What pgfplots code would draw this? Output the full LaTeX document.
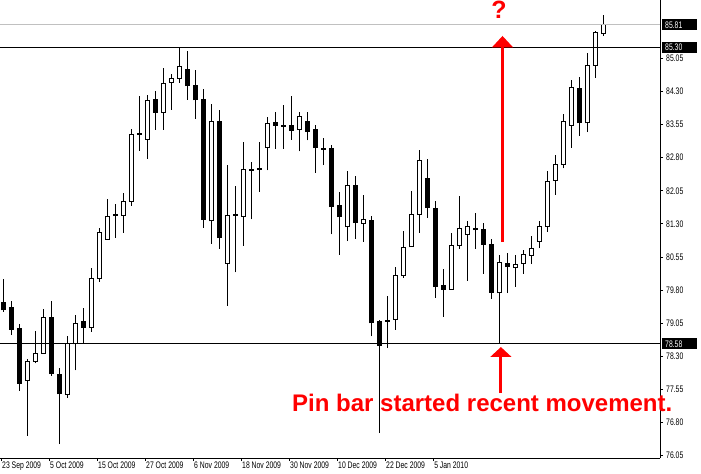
\documentclass[border=0pt]{standalone}
\usepackage{fontspec}
\setmainfont{Liberation Sans}
\newfontfamily\tickfont[FakeStretch=0.72]{Liberation Sans}
\usepackage{pgfplots}
\pgfplotsset{compat=1.18}
\usepackage{pgfplotstable}
\usetikzlibrary{calc}

\pgfplotstableread{
i o h l c
0 79.52 80.05 79.31 79.35
1 79.40 79.55 78.78 78.91
2 78.92 79.03 77.52 77.69
3 77.75 78.25 76.50 78.19
4 78.18 78.88 78.14 78.37
5 78.37 79.37 78.37 79.17
6 79.17 79.55 77.86 77.91
7 77.90 78.03 76.31 77.45
8 77.44 78.75 77.36 78.59
9 78.58 79.24 77.98 79.05
10 79.08 79.40 78.58 78.96
11 78.96 80.30 78.86 80.07
12 80.06 81.20 79.99 81.11
13 80.95 81.86 80.95 81.47
14 81.49 81.75 80.99 81.51
15 81.49 81.99 81.10 81.81
16 81.81 83.46 81.71 83.33
17 83.34 84.20 82.96 83.33
18 83.22 84.22 82.78 84.10
19 84.12 84.31 83.43 83.83
20 83.83 84.82 83.43 84.48
21 84.51 84.70 83.89 84.60
22 84.60 85.30 84.50 84.87
23 84.80 85.22 84.11 84.43
24 84.44 84.79 83.68 84.11
25 84.12 84.35 81.21 81.40
26 81.37 84.02 80.85 83.63
27 83.63 83.88 80.74 80.99
28 80.41 82.63 79.45 81.50
29 81.52 82.16 80.20 81.50
30 81.47 83.15 80.81 82.54
31 82.54 82.70 81.40 82.52
32 82.56 83.15 82.03 82.54
33 83.03 83.72 82.51 83.58
34 83.60 83.83 83.00 83.53
35 83.53 83.99 83.00 83.51
36 83.53 84.20 83.21 83.42
37 83.44 83.83 82.94 83.74
38 83.63 83.83 83.19 83.39
39 83.43 83.54 82.46 83.03
40 83.01 83.25 82.63 82.99
41 83.00 83.09 81.06 81.69
42 81.71 82.02 80.60 81.46
43 81.24 82.50 80.91 82.17
44 82.17 82.38 80.96 81.33
45 81.31 81.95 80.90 81.40
46 81.38 81.48 78.75 79.06
47 79.09 79.12 76.56 78.55
48 79.11 79.67 78.50 79.09
49 79.14 80.32 78.90 80.14
50 80.13 81.14 80.08 80.77
51 80.78 82.05 80.78 81.52
52 81.52 82.97 81.10 82.74
53 82.33 82.77 81.44 81.67
54 81.65 81.81 79.63 79.88
55 79.91 80.28 79.20 79.82
56 79.82 81.09 79.82 80.81
57 80.81 81.93 80.74 81.20
58 81.06 81.37 80.01 81.25
59 81.19 81.55 80.74 81.17
60 81.18 81.32 80.17 80.84
61 80.84 80.95 79.61 79.75
62 79.74 80.59 78.58 80.43
63 80.41 80.63 79.73 80.33
64 80.32 80.59 79.88 80.38
65 80.41 80.72 80.17 80.61
66 80.59 81.02 80.39 80.75
67 80.91 81.37 80.75 81.25
68 81.25 82.49 81.12 82.26
69 82.29 82.86 81.96 82.65
70 82.65 83.80 82.56 83.62
71 83.53 84.56 83.03 84.39
72 84.37 84.63 83.30 83.59
73 83.59 85.16 83.38 84.89
74 84.89 85.66 84.61 85.64
75 85.62 86.02 85.56 85.81
}\candles

\definecolor{bidgrey}{RGB}{192,192,192}
\definecolor{mtred}{RGB}{255,0,0}

\begin{document}
\begin{tikzpicture}
\useasboundingbox (0bp,-16bp) rectangle (701bp,458bp);
\begin{axis}[
  scale only axis, width=660bp, height=458bp,
  xmin=-0.4125, xmax=82.0875, ymin=75.998, ymax=86.371,
  axis x line*=bottom, axis y line*=right,
  axis line style={line width=1bp, black},
  tick align=outside, major tick length=3bp,
  tick style={black, line width=1bp},
  xtick={-0.22,5.78,11.78,17.78,23.78,29.78,35.78,41.78,47.78,53.78},
  xticklabels={23 Sep 2009,5 Oct 2009,15 Oct 2009,27 Oct 2009,6 Nov 2009,18 Nov 2009,30 Nov 2009,10 Dec 2009,22 Dec 2009,5 Jan 2010},
  xticklabel style={font=\tickfont\fontsize{9.5bp}{11bp}\selectfont, anchor=north west, inner sep=0.5bp, yshift=-0.5bp},
  ytick={76.05,76.80,77.55,78.30,79.05,79.80,80.55,81.30,82.05,82.80,83.55,84.30,85.05},
  yticklabel style={font=\tickfont\fontsize{9.5bp}{11bp}\selectfont, anchor=west, inner sep=1bp, xshift=2bp},
  /pgf/number format/.cd, fixed, fixed zerofill, precision=2, assume math mode=true,
]
% wicks
\addplot[black, line width=1bp, quiver={u=0, v={\thisrow{h}-\thisrow{l}}}] table[x=i, y=l] {\candles};
% bodies (outline / bearish fill)
\addplot[black, line width=5bp, quiver={u=0, v={abs(\thisrow{c}-\thisrow{o})+0.0226}}] table[x=i, y expr={min(\thisrow{o},\thisrow{c})-0.0113}] {\candles};
% bullish interior
\addplot[white, line width=3bp, quiver={u=0, v={(\thisrow{c}>\thisrow{o})*max(\thisrow{c}-\thisrow{o}-0.0226,0)}}] table[x=i, y expr={min(\thisrow{o},\thisrow{c})+0.0113}] {\candles};
% horizontal lines
\addplot[bidgrey, line width=1bp] coordinates {(-0.4125,85.81) (82.0875,85.81)};
\addplot[black, line width=1bp] coordinates {(-0.4125,85.30) (82.0875,85.30)};
\addplot[black, line width=1bp] coordinates {(-0.4125,78.58) (82.0875,78.58)};
\coordinate (b1) at (axis cs:82.0875,85.81);
\coordinate (b2) at (axis cs:82.0875,85.30);
\coordinate (b3) at (axis cs:82.0875,78.58);
\coordinate (ua0) at (axis cs:62.4,80.89);
\coordinate (ua1) at (axis cs:62.4,85.30);
\coordinate (ua2) at (axis cs:62.4,85.556);
\coordinate (la0) at (axis cs:62.2,77.47);
\coordinate (la1) at (axis cs:62.2,78.29);
\coordinate (la2) at (axis cs:62.2,78.51);
\coordinate (txt) at (axis cs:36.09,77.06);
\coordinate (qm) at (axis cs:61.96,85.957);
\end{axis}
\foreach \b/\t in {b1/85.81,b2/85.30,b3/78.58}{
  \node[fill=black, text=white, font=\tickfont\fontsize{9.5bp}{11bp}\selectfont, anchor=west, inner xsep=3bp, inner ysep=0pt, text width=29bp, align=left, minimum height=11bp, xshift=2bp] at (\b) {\t};
}
\draw[mtred, line width=3bp] (ua0) -- (ua1);
\fill[mtred] (ua2) -- ($(ua1)+(-10.5bp,0)$) -- ($(ua1)+(10.5bp,0)$) -- cycle;
\draw[mtred, line width=3bp] (la0) -- (la1);
\fill[mtred] (la2) -- ($(la1)+(-10.5bp,0)$) -- ($(la1)+(10.5bp,0)$) -- cycle;
\node[mtred, font=\bfseries\fontsize{24bp}{28bp}\selectfont, anchor=base west, inner sep=0pt] at (txt) {Pin bar started recent movement.};
\node[mtred, font=\bfseries\fontsize{25bp}{28bp}\selectfont, anchor=base, inner sep=0pt] at (qm) {?};
\end{tikzpicture}
\end{document}
